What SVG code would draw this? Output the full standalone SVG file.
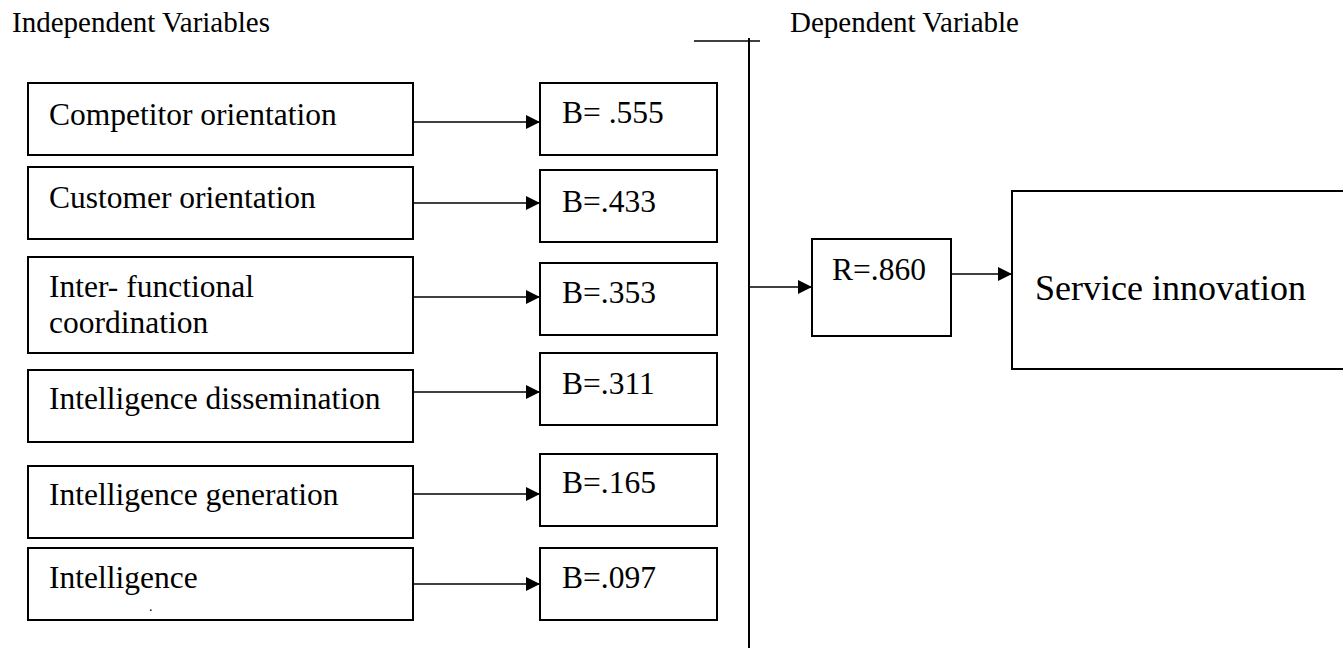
<svg xmlns="http://www.w3.org/2000/svg" width="1343" height="648" viewBox="0 0 1343 648">
<style>
.box{fill:#fff;stroke:#000;stroke-width:2}
.lbl{font-family:"Liberation Serif","Times New Roman",serif;font-size:31.5px;fill:#000}
.hdr{font-family:"Liberation Serif","Times New Roman",serif;font-size:29px;fill:#000}
.big{font-family:"Liberation Serif","Times New Roman",serif;font-size:36px;fill:#000}
.dot{font-family:"Liberation Serif","Times New Roman",serif;font-size:14px;fill:#000}
.ln{stroke:#000;stroke-width:1.6;fill:none}
.ar{stroke:#000;stroke-width:1.6;fill:none;marker-end:url(#ah)}
</style>
<defs>
<marker id="ah" markerUnits="userSpaceOnUse" markerWidth="16" markerHeight="14" refX="14" refY="7" orient="auto">
<path d="M0,0 L14,7 L0,14 Z" fill="#000"/>
</marker>
</defs>
<rect width="1343" height="648" fill="#fff"/>
<text class="hdr" x="12" y="32">Independent Variables</text>
<text class="hdr" x="790" y="32">Dependent Variable</text>

<g id="connectors">
<line class="ln" x1="694" y1="41" x2="760" y2="41"/>
<line class="ln" x1="749" y1="38" x2="749" y2="648" style="stroke-width:2"/>
<line class="ar" x1="413" y1="122" x2="540" y2="122"/>
<line class="ar" x1="413" y1="203" x2="540" y2="203"/>
<line class="ar" x1="413" y1="297" x2="540" y2="297"/>
<line class="ar" x1="413" y1="392" x2="540" y2="392"/>
<line class="ar" x1="413" y1="494" x2="540" y2="494"/>
<line class="ar" x1="413" y1="584" x2="540" y2="584"/>
<line class="ar" x1="749" y1="287" x2="812" y2="287"/>
<line class="ar" x1="951" y1="274" x2="1012" y2="274"/>
</g>

<g id="n-competitor"><rect class="box" x="28" y="83" width="385" height="72"/><text class="lbl" x="49" y="125">Competitor orientation</text></g>
<g id="n-customer"><rect class="box" x="28" y="167" width="385" height="72"/><text class="lbl" x="49" y="208">Customer orientation</text></g>
<g id="n-interfunctional"><rect class="box" x="28" y="257" width="385" height="96"/><text class="lbl" x="49" y="297">Inter- functional</text><text class="lbl" x="49" y="333">coordination</text></g>
<g id="n-dissemination"><rect class="box" x="28" y="370" width="385" height="72"/><text class="lbl" x="49" y="409">Intelligence dissemination</text></g>
<g id="n-generation"><rect class="box" x="28" y="466" width="385" height="72"/><text class="lbl" x="49" y="505">Intelligence generation</text></g>
<g id="n-responsiveness"><rect class="box" x="28" y="548" width="385" height="72"/><text class="lbl" x="49" y="588">Intelligence</text><text class="dot" x="149" y="611">.</text></g>

<g id="b1"><rect class="box" x="540" y="83" width="177" height="72"/><text class="lbl" x="562" y="123">B= .555</text></g>
<g id="b2"><rect class="box" x="540" y="170" width="177" height="72"/><text class="lbl" x="562" y="212">B=.433</text></g>
<g id="b3"><rect class="box" x="540" y="263" width="177" height="72"/><text class="lbl" x="562" y="303">B=.353</text></g>
<g id="b4"><rect class="box" x="540" y="353" width="177" height="72"/><text class="lbl" x="562" y="394">B=.311</text></g>
<g id="b5"><rect class="box" x="540" y="454" width="177" height="72"/><text class="lbl" x="562" y="493">B=.165</text></g>
<g id="b6"><rect class="box" x="540" y="548" width="177" height="72"/><text class="lbl" x="562" y="588">B=.097</text></g>

<g id="r"><rect class="box" x="812" y="239" width="139" height="97"/><text class="lbl" x="832" y="280">R=.860</text></g>
<g id="service"><rect class="box" x="1012" y="191" width="340" height="178"/><text class="big" x="1035" y="300">Service innovation</text></g>
</svg>
